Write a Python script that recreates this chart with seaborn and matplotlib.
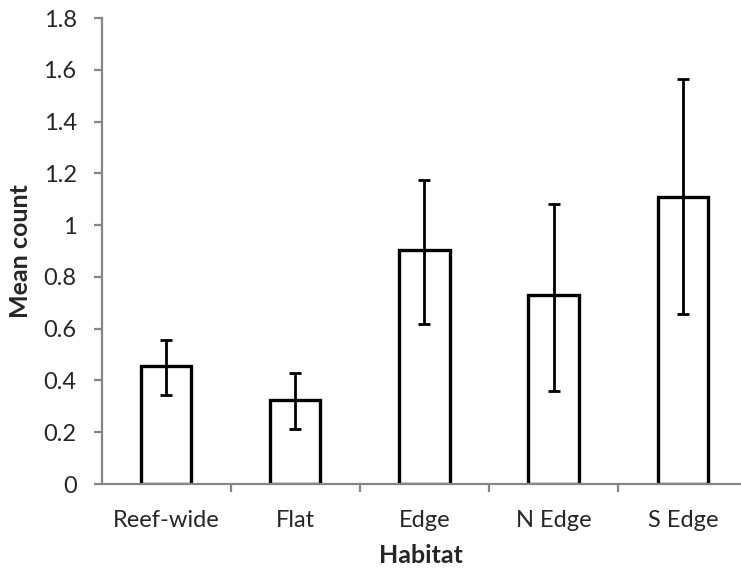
import numpy as np
import pandas as pd
import matplotlib
matplotlib.use("Agg")
import matplotlib.pyplot as plt
import seaborn as sns

# data
habitat = ["Reef-wide", "Flat", "Edge", "N Edge", "S Edge"]
mean_count = [0.455, 0.323, 0.903, 0.729, 1.109]
ci_high = [0.557, 0.428, 1.174, 1.083, 1.565]
ci_low = [0.345, 0.212, 0.617, 0.361, 0.655]
y_ticks = [0, 0.2, 0.4, 0.6, 0.8, 1.0, 1.2, 1.4, 1.6, 1.8]
y_ticklabels = ["0", "0.2", "0.4", "0.6", "0.8", "1", "1.2", "1.4", "1.6", "1.8"]

df = pd.DataFrame({"Habitat": habitat, "Mean count": mean_count})

sns.set_style("white")
plt.rcParams["font.family"] = ["Lato", "DejaVu Sans"]

grey = "#868686"

fig = plt.figure(figsize=(7.41, 5.72), dpi=100)
ax = fig.add_axes([0.137, 0.1538, 0.863, 0.8147])

sns.barplot(
    data=df, x="Habitat", y="Mean count", ax=ax,
    color="white", edgecolor="black", linewidth=2.4, width=0.39,
    errorbar=None
)

xs = [p.get_x() + p.get_width() / 2 for p in ax.patches]
m = np.array(mean_count)
yerr = [m - np.array(ci_low), np.array(ci_high) - m]
ax.errorbar(xs, m, yerr=yerr, fmt="none", ecolor="black",
            elinewidth=2, capsize=4, capthick=2, zorder=5)

ax.set_xlim(-0.5, 4.45)
ax.set_ylim(0, 1.8)
ax.set_yticks(y_ticks, labels=y_ticklabels)

# ticks on the x axis sit between the categories
ax.set_xticks(np.arange(len(habitat)), labels=habitat)
ax.set_xticks(np.arange(0.5, len(habitat) - 1, 1), minor=True)
ax.tick_params(axis="x", which="major", length=0, labelsize=17, pad=19)
ax.tick_params(axis="x", which="minor", length=6, width=1.6, color=grey,
               direction="out", bottom=True)
ax.tick_params(axis="y", length=6, width=1.6, color=grey, direction="out",
               left=True, labelsize=17, pad=12)

for side in ["top", "right"]:
    ax.spines[side].set_visible(False)
for side in ["left", "bottom"]:
    ax.spines[side].set_color(grey)
    ax.spines[side].set_linewidth(1.6)

ax.set_xlabel("Habitat", fontsize=18, fontweight="bold", labelpad=9)
ax.set_ylabel("Mean count", fontsize=18, fontweight="bold", labelpad=8)

fig.savefig("out.png", dpi=100)
